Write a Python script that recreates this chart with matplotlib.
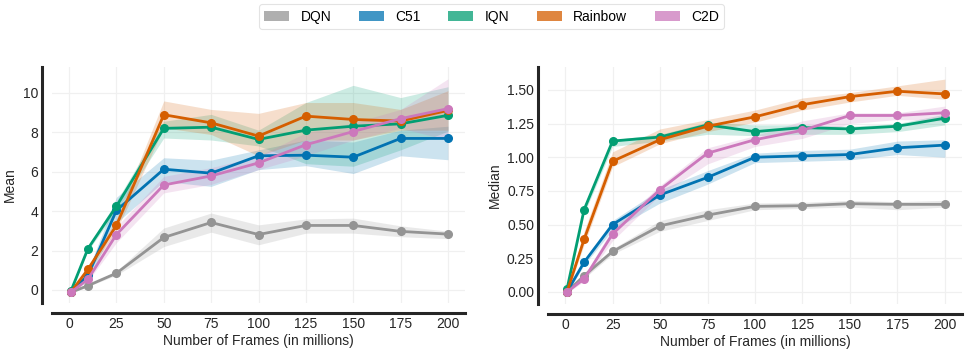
import matplotlib
matplotlib.use("Agg")
import matplotlib.pyplot as plt
from matplotlib.patches import Patch

plt.rcParams['font.family'] = ['Liberation Sans', 'DejaVu Sans']

frames = [1, 10, 25, 50, 75, 100, 125, 150, 175, 200]
methods = ["DQN", "C51", "IQN", "Rainbow", "C2D"]
colors = {"DQN": "#949494", "C51": "#0173b2", "IQN": "#029e73", "Rainbow": "#d55e00", "C2D": "#cc78bc"}

# Mean
mean_dqn = [-0.12, 0.22, 0.85, 2.66, 3.42, 2.81, 3.27, 3.27, 2.97, 2.83]
mean_dqn_lo = [-0.15, 0.18, 0.75, 2.2, 2.93, 2.29, 2.88, 2.88, 2.7, 2.6]
mean_dqn_hi = [-0.08, 0.27, 0.95, 3.14, 3.9, 3.3, 3.6, 3.64, 3.25, 2.98]
mean_c51 = [-0.1, 0.75, 4.03, 6.12, 5.92, 6.8, 6.83, 6.73, 7.68, 7.68]
mean_c51_lo = [-0.15, 0.5, 3.4, 5.5, 5.25, 6.1, 6.3, 5.9, 6.8, 6.6]
mean_c51_hi = [-0.05, 1.0, 4.7, 6.7, 6.58, 7.1, 7.6, 7.5, 8.1, 8.3]
mean_iqn = [-0.05, 2.1, 4.24, 8.19, 8.25, 7.63, 8.1, 8.3, 8.42, 8.85]
mean_iqn_lo = [-0.1, 2.0, 4.0, 7.7, 7.6, 7.3, 6.4, 6.27, 7.1, 8.05]
mean_iqn_hi = [0.0, 2.2, 4.5, 8.55, 8.9, 8.1, 9.5, 10.37, 9.75, 10.3]
mean_rainbow = [-0.1, 1.05, 3.27, 8.88, 8.47, 7.8, 8.81, 8.64, 8.56, 9.1]
mean_rainbow_lo = [-0.15, 0.9, 3.0, 8.22, 7.88, 6.8, 7.6, 7.6, 8.1, 8.1]
mean_rainbow_hi = [-0.05, 1.2, 3.6, 9.58, 9.15, 8.95, 9.5, 9.5, 9.15, 10.1]
mean_c2d = [-0.12, 0.55, 2.81, 5.32, 5.78, 6.44, 7.36, 8.03, 8.68, 9.19]
mean_c2d_lo = [-0.15, 0.45, 2.4, 4.92, 5.35, 6.1, 6.8, 7.6, 8.2, 7.6]
mean_c2d_hi = [-0.08, 0.65, 3.2, 5.76, 6.2, 6.78, 7.97, 8.47, 9.15, 10.7]

# Median
med_dqn = [0.0, 0.12, 0.30, 0.49, 0.57, 0.635, 0.64, 0.655, 0.65, 0.65]
med_dqn_lo = [-0.01, 0.10, 0.28, 0.45, 0.53, 0.61, 0.62, 0.63, 0.61, 0.63]
med_dqn_hi = [0.01, 0.14, 0.32, 0.53, 0.61, 0.66, 0.665, 0.68, 0.67, 0.68]
med_c51 = [0.0, 0.22, 0.50, 0.72, 0.85, 1.0, 1.01, 1.02, 1.07, 1.09]
med_c51_lo = [-0.01, 0.2, 0.46, 0.66, 0.8, 0.96, 0.97, 0.98, 1.02, 1.0]
med_c51_hi = [0.01, 0.24, 0.53, 0.76, 0.9, 1.03, 1.05, 1.06, 1.12, 1.13]
med_iqn = [0.02, 0.61, 1.12, 1.15, 1.24, 1.19, 1.22, 1.21, 1.23, 1.29]
med_iqn_lo = [0.01, 0.58, 1.08, 1.12, 1.17, 1.16, 1.17, 1.17, 1.19, 1.24]
med_iqn_hi = [0.03, 0.64, 1.13, 1.17, 1.26, 1.24, 1.24, 1.23, 1.25, 1.32]
med_rainbow = [0.0, 0.39, 0.97, 1.13, 1.23, 1.30, 1.39, 1.45, 1.49, 1.47]
med_rainbow_lo = [-0.01, 0.35, 0.93, 1.1, 1.19, 1.26, 1.35, 1.41, 1.46, 1.43]
med_rainbow_hi = [0.01, 0.45, 1.04, 1.21, 1.28, 1.35, 1.44, 1.48, 1.53, 1.58]
med_c2d = [0.0, 0.096, 0.43, 0.76, 1.03, 1.13, 1.20, 1.31, 1.31, 1.33]
med_c2d_lo = [-0.01, 0.08, 0.38, 0.72, 0.95, 1.08, 1.14, 1.25, 1.28, 1.27]
med_c2d_hi = [0.01, 0.12, 0.47, 0.79, 1.07, 1.16, 1.27, 1.33, 1.33, 1.38]

mean_data = {
    "DQN": (mean_dqn, mean_dqn_lo, mean_dqn_hi),
    "C51": (mean_c51, mean_c51_lo, mean_c51_hi),
    "IQN": (mean_iqn, mean_iqn_lo, mean_iqn_hi),
    "Rainbow": (mean_rainbow, mean_rainbow_lo, mean_rainbow_hi),
    "C2D": (mean_c2d, mean_c2d_lo, mean_c2d_hi),
}
median_data = {
    "DQN": (med_dqn, med_dqn_lo, med_dqn_hi),
    "C51": (med_c51, med_c51_lo, med_c51_hi),
    "IQN": (med_iqn, med_iqn_lo, med_iqn_hi),
    "Rainbow": (med_rainbow, med_rainbow_lo, med_rainbow_hi),
    "C2D": (med_c2d, med_c2d_lo, med_c2d_hi),
}

W, H = 969, 353
fig = plt.figure(figsize=(W / 100, H / 100), dpi=100)

def px_axes(x0, x1, y0, y1):
    return fig.add_axes([x0 / W, 1 - y1 / H, (x1 - x0) / W, (y1 - y0) / H])

ax1 = px_axes(52, 465, 67, 303)
ax2 = px_axes(548, 962, 67, 304)

def draw(ax, data, ylabel, ylim, yticks, yfmt):
    for m in methods:
        v, lo, hi = data[m]
        c = colors[m]
        ax.fill_between(frames, lo, hi, color=c, alpha=0.2, linewidth=0)
        ax.plot(frames, v, color=c, linewidth=2, marker='o', markersize=5.5, zorder=3)
    ax.set_xlim(-9, 209)
    ax.set_ylim(*ylim)
    ax.set_xticks([0, 25, 50, 75, 100, 125, 150, 175, 200])
    ax.set_yticks(yticks)
    ax.set_yticklabels([yfmt.format(t) for t in yticks])
    ax.grid(True, color='#f0f0f0', linewidth=0.9)
    ax.set_axisbelow(True)
    ax.tick_params(length=0, labelsize=10, colors='#262626', pad=3)
    for s in ['top', 'right']:
        ax.spines[s].set_visible(False)
    ax.spines['left'].set_position(('outward', 7))
    ax.spines['bottom'].set_position(('outward', 7))
    for s in ['left', 'bottom']:
        ax.spines[s].set_linewidth(2.2)
        ax.spines[s].set_color('#262626')
    ax.set_xlabel("Number of Frames (in millions)", fontsize=10, color='#262626', labelpad=2)
    ax.set_ylabel(ylabel, fontsize=10, color='#262626', labelpad=4)

draw(ax1, mean_data, "Mean", (-0.66, 11.3), [0, 2, 4, 6, 8, 10], "{:g}")
draw(ax2, median_data, "Median", (-0.09, 1.67), [0, 0.25, 0.5, 0.75, 1.0, 1.25, 1.5], "{:.2f}")

handles = [Patch(facecolor=colors[m], alpha=0.75, edgecolor='none') for m in methods]
leg = fig.legend(handles, methods, loc='upper center', bbox_to_anchor=(491.5 / W, 1 - 4 / H),
                 ncol=5, fontsize=10, frameon=True, handlelength=1.8, handleheight=0.7,
                 columnspacing=2.0, handletextpad=0.8, borderpad=0.4, borderaxespad=0)
leg.get_frame().set_edgecolor('#dddddd')
leg.get_frame().set_linewidth(0.8)

fig.savefig("out.png", dpi=100)
